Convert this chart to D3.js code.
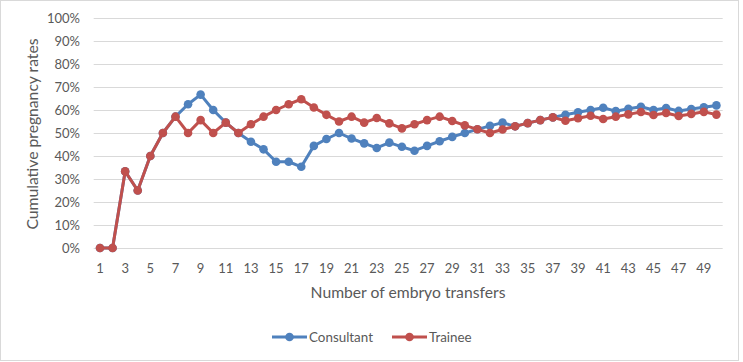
<!DOCTYPE html>
<html>
<head>
<meta charset="utf-8">
<script src="https://cdn.jsdelivr.net/npm/d3@7"></script>
<style>
  body { margin: 0; background: #fff; }
  svg { display: block; font-family: "Lato", "Open Sans", sans-serif; }
</style>
</head>
<body>
<svg id="chart" width="743" height="362"></svg>
<script>
// number of transfers 1..50
var transfers = d3.range(1, 51);

var consultant = [0, 0, 33.3, 25, 40, 50, 57.1, 62.5, 66.7, 60,
  54.5, 50, 46.2, 42.9, 37.5, 37.5, 35.3, 44.4, 47.4, 50,
  47.6, 45.5, 43.5, 45.8, 44, 42.3, 44.4, 46.4, 48.3, 50,
  51.6, 53.1, 54.5, 52.9, 54.3, 55.6, 56.8, 57.9, 59, 60,
  61, 59.5, 60.5, 61.4, 60, 60.9, 59.6, 60.4, 61.2, 62];

var trainee = [0, 0, 33.3, 25, 40, 50, 57.1, 50, 55.6, 50,
  54.5, 50, 53.8, 57.1, 60, 62.5, 64.7, 61.1, 57.9, 55,
  57.1, 54.5, 56.5, 54.2, 52, 53.8, 55.6, 57.1, 55.2, 53.3,
  51.6, 50, 51.5, 52.9, 54.3, 55.6, 56.8, 55.3, 56.4, 57.5,
  56.1, 57.1, 58.1, 59.1, 57.8, 58.7, 57.4, 58.3, 59.2, 58];

var yTicks = [0, 10, 20, 30, 40, 50, 60, 70, 80, 90, 100];
var xTickLabels = transfers.filter(function(d) { return d % 2 == 1; });

var series = [
  { name: "Consultant", values: consultant, color: "#4f81bd" },
  { name: "Trainee", values: trainee, color: "#c0504d" }
];

var svg = d3.select("#chart");
var textColor = "#595959";

// outer frame
svg.append("rect")
   .attr("x", 0.5).attr("y", 0.5)
   .attr("width", 738).attr("height", 360)
   .attr("fill", "#fff")
   .attr("stroke", "#d9d9d9");

var x = d3.scaleBand().domain(transfers).range([93.7, 722.7]);
var y = d3.scaleLinear().domain([0, 100]).range([248, 18]);

function cx(d) { return x(d) + x.bandwidth() / 2; }

// gridlines
svg.append("g")
   .selectAll("line")
   .data(yTicks)
   .enter().append("line")
   .attr("x1", 93.7).attr("x2", 722.7)
   .attr("y1", function(d) { return Math.round(y(d)) + 0.5; })
   .attr("y2", function(d) { return Math.round(y(d)) + 0.5; })
   .attr("stroke", "#d9d9d9")
   .attr("stroke-width", 1);

// y labels
svg.append("g")
   .selectAll("text")
   .data(yTicks)
   .enter().append("text")
   .attr("x", 80)
   .attr("y", function(d) { return y(d); })
   .attr("dy", "0.35em")
   .attr("text-anchor", "end")
   .attr("fill", textColor)
   .style("font-size", "13px")
   .text(function(d) { return d + "%"; });

// x labels
svg.append("g")
   .selectAll("text")
   .data(xTickLabels)
   .enter().append("text")
   .attr("x", cx)
   .attr("y", 268)
   .attr("dy", "0.35em")
   .attr("text-anchor", "middle")
   .attr("fill", textColor)
   .style("font-size", "13px")
   .text(function(d) { return d; });

// axis titles
svg.append("text")
   .attr("x", 408).attr("y", 293)
   .attr("dy", "0.35em")
   .attr("text-anchor", "middle")
   .attr("fill", textColor)
   .style("font-size", "15.7px")
   .text("Number of embryo transfers");

svg.append("text")
   .attr("transform", "translate(32,134) rotate(-90)")
   .attr("dy", "0.35em")
   .attr("text-anchor", "middle")
   .attr("fill", textColor)
   .style("font-size", "15.7px")
   .text("Cumulative pregnancy rates");

// series
var line = d3.line()
  .x(function(d, i) { return cx(transfers[i]); })
  .y(function(d) { return y(d); });

series.forEach(function(s) {
  var g = svg.append("g");
  g.append("path")
   .attr("d", line(s.values))
   .attr("fill", "none")
   .attr("stroke", s.color)
   .attr("stroke-width", 3)
   .attr("stroke-linejoin", "round");
  g.selectAll("circle")
   .data(s.values)
   .enter().append("circle")
   .attr("cx", function(d, i) { return cx(transfers[i]); })
   .attr("cy", function(d) { return y(d); })
   .attr("r", 4.3)
   .attr("fill", s.color);
});

// legend
var legendX = [272, 392];
var legend = svg.append("g")
  .selectAll("g")
  .data(series)
  .enter().append("g")
  .attr("transform", function(d, i) { return "translate(" + legendX[i] + ",337)"; });

legend.append("line")
  .attr("x1", 0).attr("x2", 35)
  .attr("stroke", function(d) { return d.color; })
  .attr("stroke-width", 3);
legend.append("circle")
  .attr("cx", 17.5).attr("r", 4.3)
  .attr("fill", function(d) { return d.color; });
legend.append("text")
  .attr("x", 37)
  .attr("dy", "0.35em")
  .attr("fill", textColor)
  .style("font-size", "13.4px")
  .text(function(d) { return d.name; });
</script>
</body>
</html>
